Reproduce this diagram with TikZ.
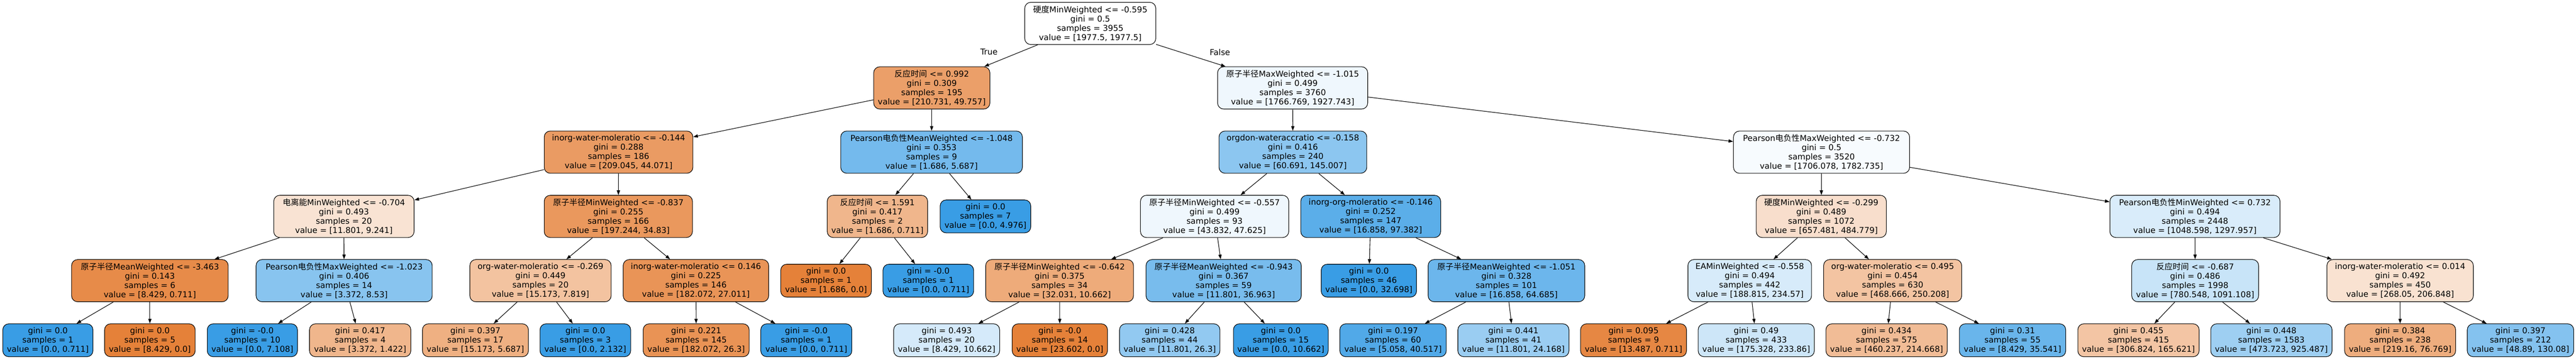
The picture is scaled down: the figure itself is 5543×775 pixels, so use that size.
\documentclass[tikz,border=0pt]{standalone}
\usepackage{fontspec}
\setmainfont{DejaVu Sans}
\newfontfamily\cjk{Noto Sans CJK SC}
\usetikzlibrary{arrows.meta}
\definecolor{co}{RGB}{229,129,57}
\definecolor{cb}{RGB}{57,157,229}
\tikzset{
  tn/.style={draw=black, line width=1.2pt, rounded corners=13pt, inner sep=0pt, align=center,
    minimum height=91pt, font=\fontsize{17.5}{20}\selectfont},
  lf/.style={tn, minimum height=71pt},
  edge/.style={draw=black, line width=1.2pt, -{Triangle[length=10pt,width=7pt]}},
  elab/.style={inner sep=0pt, font=\fontsize{17.5}{20}\selectfont},
}
\begin{document}
\begin{tikzpicture}[x=1pt,y=-1pt]
\useasboundingbox (0,0) rectangle (5543,775);
% row 0
\node[tn, minimum width=282pt, fill=white] (root) at (2346,50.5) {{\cjk 硬度}MinWeighted <= -0.595\\gini = 0.5\\samples = 3955\\value = [1977.5, 1977.5]};
% row 1
\node[tn, minimum width=250pt, fill=co!76!white] (n1) at (2005,189.5) {{\cjk 反应时间} <= 0.992\\gini = 0.309\\samples = 195\\value = [210.731, 49.757]};
\node[tn, minimum width=323pt, fill=cb!8!white] (n2) at (2781.5,189.5) {{\cjk 原子半径}MaxWeighted <= -1.015\\gini = 0.499\\samples = 3760\\value = [1766.769, 1927.743]};
% row 2
\node[tn, minimum width=320pt, fill=co!79!white] (n3) at (1331,328) {inorg-water-moleratio <= -0.144\\gini = 0.288\\samples = 186\\value = [209.045, 44.071]};
\node[tn, minimum width=391pt, fill=cb!70!white] (n4) at (2004.5,328) {Pearson{\cjk 电负性}MeanWeighted <= -1.048\\gini = 0.353\\samples = 9\\value = [1.686, 5.687]};
\node[tn, minimum width=318pt, fill=cb!58!white] (n5) at (2782,328) {orgdon-wateraccratio <= -0.158\\gini = 0.416\\samples = 240\\value = [60.691, 145.007]};
\node[tn, minimum width=379pt, fill=cb!4!white] (n6) at (3919.5,328) {Pearson{\cjk 电负性}MaxWeighted <= -0.732\\gini = 0.5\\samples = 3520\\value = [1706.078, 1782.735]};
% row 3
\node[tn, minimum width=302pt, fill=co!22!white] (n7) at (740,466.5) {{\cjk 电离能}MinWeighted <= -0.704\\gini = 0.493\\samples = 20\\value = [11.801, 9.241]};
\node[tn, minimum width=319pt, fill=co!82!white] (n8) at (1330.5,466.5) {{\cjk 原子半径}MinWeighted <= -0.837\\gini = 0.255\\samples = 166\\value = [197.244, 34.83]};
\node[tn, minimum width=216pt, fill=co!58!white] (n9) at (1888,466.5) {{\cjk 反应时间} <= 1.591\\gini = 0.417\\samples = 2\\value = [1.686, 0.711]};
\node[lf, minimum width=195pt, fill=cb] (n10) at (2120.5,466.5) {gini = 0.0\\samples = 7\\value = [0.0, 4.976]};
\node[tn, minimum width=319pt, fill=cb!8!white] (n11) at (2613.5,466.5) {{\cjk 原子半径}MinWeighted <= -0.557\\gini = 0.499\\samples = 93\\value = [43.832, 47.625]};
\node[tn, minimum width=301pt, fill=cb!83!white] (n12) at (2949.5,466.5) {inorg-org-moleratio <= -0.146\\gini = 0.252\\samples = 147\\value = [16.858, 97.382]};
\node[tn, minimum width=280pt, fill=co!26!white] (n13) at (3919,466.5) {{\cjk 硬度}MinWeighted <= -0.299\\gini = 0.489\\samples = 1072\\value = [657.481, 484.779]};
\node[tn, minimum width=366pt, fill=cb!19!white] (n14) at (4723,466.5) {Pearson{\cjk 电负性}MinWeighted <= 0.732\\gini = 0.494\\samples = 2448\\value = [1048.598, 1297.957]};
% row 4
\node[tn, minimum width=337pt, fill=co!92!white] (n15) at (322.5,605) {{\cjk 原子半径}MeanWeighted <= -3.463\\gini = 0.143\\samples = 6\\value = [8.429, 0.711]};
\node[tn, minimum width=379pt, fill=cb!60!white] (n16) at (740.5,605) {Pearson{\cjk 电负性}MaxWeighted <= -1.023\\gini = 0.406\\samples = 14\\value = [3.372, 8.53]};
\node[tn, minimum width=304pt, fill=co!48!white] (n17) at (1163,605) {org-water-moleratio <= -0.269\\gini = 0.449\\samples = 20\\value = [15.173, 7.819]};
\node[tn, minimum width=313pt, fill=co!85!white] (n18) at (1497.5,605) {inorg-water-moleratio <= 0.146\\gini = 0.225\\samples = 146\\value = [182.072, 27.011]};
\node[lf, minimum width=195pt, fill=co] (n19) at (1777.5,605) {gini = 0.0\\samples = 1\\value = [1.686, 0.0]};
\node[lf, minimum width=195pt, fill=cb] (n20) at (1997.5,605) {gini = -0.0\\samples = 1\\value = [0.0, 0.711]};
\node[tn, minimum width=318pt, fill=co!67!white] (n21) at (2280,605) {{\cjk 原子半径}MinWeighted <= -0.642\\gini = 0.375\\samples = 34\\value = [32.031, 10.662]};
\node[tn, minimum width=334pt, fill=cb!68!white] (n22) at (2633,605) {{\cjk 原子半径}MeanWeighted <= -0.943\\gini = 0.367\\samples = 59\\value = [11.801, 36.963]};
\node[lf, minimum width=205pt, fill=cb] (n23) at (2945.5,605) {gini = 0.0\\samples = 46\\value = [0.0, 32.698]};
\node[tn, minimum width=337pt, fill=cb!74!white] (n24) at (3241.5,605) {{\cjk 原子半径}MeanWeighted <= -1.051\\gini = 0.328\\samples = 101\\value = [16.858, 64.685]};
\node[tn, minimum width=266pt, fill=cb!20!white] (n25) at (3765,605) {EAMinWeighted <= -0.558\\gini = 0.494\\samples = 442\\value = [188.815, 234.57]};
\node[tn, minimum width=297pt, fill=co!47!white] (n26) at (4072.5,605) {org-water-moleratio <= 0.495\\gini = 0.454\\samples = 630\\value = [468.666, 250.208]};
\node[tn, minimum width=273pt, fill=cb!28!white] (n27) at (4723.5,605) {{\cjk 反应时间} <= -0.687\\gini = 0.486\\samples = 1998\\value = [780.548, 1091.108]};
\node[tn, minimum width=315pt, fill=co!23!white] (n28) at (5164.5,605) {inorg-water-moleratio <= 0.014\\gini = 0.492\\samples = 450\\value = [268.05, 206.848]};
% row 5 leaves
\node[lf, minimum width=194pt, fill=cb] (la) at (103,733.5) {gini = 0.0\\samples = 1\\value = [0.0, 0.711]};
\node[lf, minimum width=195pt, fill=co] (lb) at (322.5,733.5) {gini = 0.0\\samples = 5\\value = [8.429, 0.0]};
\node[lf, minimum width=194pt, fill=cb] (lc) at (543,733.5) {gini = -0.0\\samples = 10\\value = [0.0, 7.108]};
\node[lf, minimum width=218pt, fill=co!58!white] (ld) at (775,733.5) {gini = 0.417\\samples = 4\\value = [3.372, 1.422]};
\node[lf, minimum width=228pt, fill=co!63!white] (le) at (1023,733.5) {gini = 0.397\\samples = 17\\value = [15.173, 5.687]};
\node[lf, minimum width=195pt, fill=cb] (lf1) at (1259.5,733.5) {gini = 0.0\\samples = 3\\value = [0.0, 2.132]};
\node[lf, minimum width=228pt, fill=co!86!white] (lg) at (1498,733.5) {gini = 0.221\\samples = 145\\value = [182.072, 26.3]};
\node[lf, minimum width=196pt, fill=cb] (lh) at (1735,733.5) {gini = -0.0\\samples = 1\\value = [0.0, 0.711]};
\node[lf, minimum width=228pt, fill=cb!21!white] (li) at (2037,733.5) {gini = 0.493\\samples = 20\\value = [8.429, 10.662]};
\node[lf, minimum width=205pt, fill=co] (lj) at (2280.5,733.5) {gini = -0.0\\samples = 14\\value = [23.602, 0.0]};
\node[lf, minimum width=216pt, fill=cb!55!white] (lk) at (2517,733.5) {gini = 0.428\\samples = 44\\value = [11.801, 26.3]};
\node[lf, minimum width=204pt, fill=cb] (ll) at (2756,733.5) {gini = 0.0\\samples = 15\\value = [0.0, 10.662]};
\node[lf, minimum width=229pt, fill=cb!88!white] (lm) at (2997.5,733.5) {gini = 0.197\\samples = 60\\value = [5.058, 40.517]};
\node[lf, minimum width=239pt, fill=cb!51!white] (ln) at (3256.5,733.5) {gini = 0.441\\samples = 41\\value = [11.801, 24.168]};
\node[lf, minimum width=228pt, fill=co!95!white] (lo) at (3515,733.5) {gini = 0.095\\samples = 9\\value = [13.487, 0.711]};
\node[lf, minimum width=250pt, fill=cb!25!white] (lp) at (3779,733.5) {gini = 0.49\\samples = 433\\value = [175.328, 233.86]};
\node[lf, minimum width=261pt, fill=co!53!white] (lq) at (4059.5,733.5) {gini = 0.434\\samples = 575\\value = [460.237, 214.668]};
\node[lf, minimum width=229pt, fill=cb!76!white] (lr) at (4330.5,733.5) {gini = 0.31\\samples = 55\\value = [8.429, 35.541]};
\node[lf, minimum width=261pt, fill=co!46!white] (ls) at (4601.5,733.5) {gini = 0.455\\samples = 415\\value = [306.824, 165.621]};
\node[lf, minimum width=261pt, fill=cb!49!white] (lt) at (4887.5,733.5) {gini = 0.448\\samples = 1583\\value = [473.723, 925.487]};
\node[lf, minimum width=239pt, fill=co!65!white] (lu) at (5164.5,733.5) {gini = 0.384\\samples = 238\\value = [219.16, 76.769]};
\node[lf, minimum width=229pt, fill=cb!62!white] (lv) at (5423.5,733.5) {gini = 0.397\\samples = 212\\value = [48.89, 130.08]};
% labels
\node[elab] (lblT) at (2128,112) {True};
\node[elab] (lblF) at (2625,113) {False};
% edges
\draw[edge] (root) -- (n1);
\draw[edge] (root) -- (n2);
\draw[edge] (n1) -- (n3);
\draw[edge] (n1) -- (n4);
\draw[edge] (n2) -- (n5);
\draw[edge] (n2) -- (n6);
\draw[edge] (n3) -- (n7);
\draw[edge] (n3) -- (n8);
\draw[edge] (n4) -- (n9);
\draw[edge] (n4) -- (n10);
\draw[edge] (n5) -- (n11);
\draw[edge] (n5) -- (n12);
\draw[edge] (n6) -- (n13);
\draw[edge] (n6) -- (n14);
\draw[edge] (n7) -- (n15);
\draw[edge] (n7) -- (n16);
\draw[edge] (n8) -- (n17);
\draw[edge] (n8) -- (n18);
\draw[edge] (n9) -- (n19);
\draw[edge] (n9) -- (n20);
\draw[edge] (n11) -- (n21);
\draw[edge] (n11) -- (n22);
\draw[edge] (n12) -- (n23);
\draw[edge] (n12) -- (n24);
\draw[edge] (n13) -- (n25);
\draw[edge] (n13) -- (n26);
\draw[edge] (n14) -- (n27);
\draw[edge] (n14) -- (n28);
\draw[edge] (n15) -- (la);
\draw[edge] (n15) -- (lb);
\draw[edge] (n16) -- (lc);
\draw[edge] (n16) -- (ld);
\draw[edge] (n17) -- (le);
\draw[edge] (n17) -- (lf1);
\draw[edge] (n18) -- (lg);
\draw[edge] (n18) -- (lh);
\draw[edge] (n21) -- (li);
\draw[edge] (n21) -- (lj);
\draw[edge] (n22) -- (lk);
\draw[edge] (n22) -- (ll);
\draw[edge] (n24) -- (lm);
\draw[edge] (n24) -- (ln);
\draw[edge] (n25) -- (lo);
\draw[edge] (n25) -- (lp);
\draw[edge] (n26) -- (lq);
\draw[edge] (n26) -- (lr);
\draw[edge] (n27) -- (ls);
\draw[edge] (n27) -- (lt);
\draw[edge] (n28) -- (lu);
\draw[edge] (n28) -- (lv);
\end{tikzpicture}
\end{document}
